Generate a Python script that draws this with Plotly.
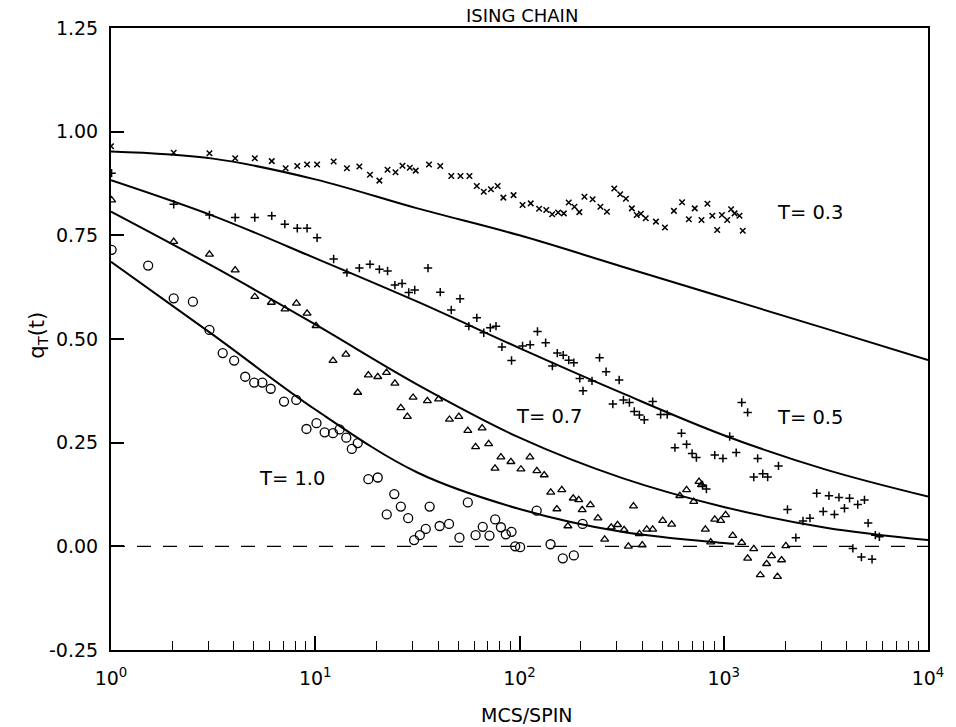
import numpy as np
import plotly.graph_objects as go

# ---- data (x stored as log10 of MCS/SPIN, y as q_T(t)) ----
t03_log = [0.0, 0.307, 0.482, 0.608, 0.704, 0.787, 0.855, 0.912, 0.96, 1.009, 1.09, 1.155, 1.216, 1.268, 1.314,
           1.354, 1.393, 1.427, 1.463, 1.492, 1.557, 1.612, 1.666, 1.711, 1.755, 1.791, 1.825, 1.86, 1.893, 1.921,
           1.971, 2.015, 2.055, 2.096, 2.131, 2.16, 2.189, 2.217, 2.241, 2.269, 2.293, 2.318, 2.358, 2.396, 2.428,
           2.464, 2.493, 2.521, 2.55, 2.574, 2.594, 2.618, 2.668, 2.712, 2.756, 2.796, 2.829, 2.858, 2.891, 2.92,
           2.944, 2.968, 2.991, 3.017, 3.036, 3.053, 3.077, 3.093]
t03_q = [0.965, 0.949, 0.948, 0.936, 0.936, 0.929, 0.912, 0.917, 0.921, 0.921, 0.928, 0.912, 0.916, 0.896, 0.882,
         0.908, 0.902, 0.918, 0.913, 0.906, 0.921, 0.917, 0.893, 0.893, 0.893, 0.869, 0.855, 0.861, 0.869, 0.841,
         0.847, 0.823, 0.827, 0.814, 0.811, 0.801, 0.805, 0.803, 0.829, 0.819, 0.806, 0.843, 0.837, 0.819, 0.807,
         0.863, 0.849, 0.838, 0.815, 0.799, 0.802, 0.791, 0.783, 0.769, 0.809, 0.830, 0.789, 0.815, 0.787, 0.826,
         0.797, 0.763, 0.799, 0.787, 0.813, 0.803, 0.797, 0.761]

t05_log = [0.003, 0.307, 0.482, 0.608, 0.704, 0.787, 0.851, 0.912, 0.960, 1.009, 1.090, 1.155, 1.216, 1.268, 1.314,
           1.354, 1.390, 1.425, 1.458, 1.487, 1.552, 1.612, 1.666, 1.709, 1.752, 1.791, 1.825, 1.857, 1.885, 1.914,
           1.961, 2.015, 2.052, 2.088, 2.128, 2.161, 2.185, 2.214, 2.241, 2.266, 2.295, 2.311, 2.355, 2.392, 2.424,
           2.457, 2.488, 2.509, 2.538, 2.562, 2.587, 2.611, 2.652, 2.691, 2.723, 2.761, 2.793, 2.818, 2.845, 2.866,
           2.896, 2.915, 2.956, 2.996, 3.029, 3.061, 3.088, 3.117, 3.147, 3.166, 3.191, 3.215, 3.268, 3.312, 3.353,
           3.388, 3.422, 3.455, 3.487, 3.515, 3.542, 3.564, 3.591, 3.616, 3.632, 3.656, 3.674, 3.689, 3.707, 3.726,
           3.742, 3.762]
t05_q = [0.900, 0.825, 0.799, 0.793, 0.793, 0.797, 0.777, 0.767, 0.767, 0.744, 0.693, 0.660, 0.671, 0.680, 0.668,
         0.664, 0.630, 0.634, 0.612, 0.618, 0.671, 0.613, 0.570, 0.597, 0.531, 0.551, 0.515, 0.527, 0.531, 0.481,
         0.448, 0.483, 0.486, 0.518, 0.491, 0.435, 0.466, 0.461, 0.449, 0.443, 0.405, 0.375, 0.399, 0.455, 0.421,
         0.343, 0.401, 0.353, 0.347, 0.325, 0.317, 0.305, 0.349, 0.318, 0.318, 0.238, 0.273, 0.246, 0.224, 0.214,
         0.148, 0.138, 0.220, 0.212, 0.265, 0.226, 0.347, 0.323, 0.167, 0.212, 0.175, 0.167, 0.194, 0.089, 0.021,
         0.061, 0.068, 0.128, 0.084, 0.122, 0.077, 0.118, 0.092, 0.116, -0.005, 0.101, -0.026, 0.112, 0.056, -0.031,
         0.027, 0.023]

t07_log = [0.003, 0.307, 0.482, 0.608, 0.704, 0.785, 0.852, 0.908, 0.960, 1.004, 1.087, 1.150, 1.208, 1.260, 1.306,
           1.349, 1.390, 1.419, 1.451, 1.479, 1.549, 1.604, 1.657, 1.703, 1.747, 1.785, 1.817, 1.849, 1.880, 1.909,
           1.958, 2.007, 2.051, 2.085, 2.121, 2.153, 2.183, 2.207, 2.237, 2.263, 2.290, 2.307, 2.347, 2.384, 2.417,
           2.449, 2.480, 2.512, 2.533, 2.558, 2.587, 2.601, 2.623, 2.652, 2.701, 2.745, 2.785, 2.818, 2.853, 2.879,
           2.891, 2.910, 2.936, 2.956, 2.985, 3.009, 3.044, 3.088, 3.117, 3.147, 3.179, 3.210, 3.234, 3.263, 3.283,
           3.304]
t07_q = [0.835, 0.735, 0.704, 0.666, 0.602, 0.588, 0.572, 0.586, 0.562, 0.532, 0.448, 0.463, 0.371, 0.413, 0.409,
         0.419, 0.393, 0.334, 0.313, 0.359, 0.351, 0.355, 0.306, 0.313, 0.279, 0.240, 0.285, 0.247, 0.188, 0.215,
         0.204, 0.186, 0.215, 0.182, 0.172, 0.130, 0.090, 0.136, 0.049, 0.116, 0.112, 0.088, 0.100, 0.068, 0.017,
         0.046, 0.052, 0.040, 0.000, 0.097, 0.030, 0.003, 0.041, 0.041, 0.062, 0.053, 0.122, 0.136, 0.108, 0.156,
         0.148, 0.041, 0.010, 0.065, 0.062, 0.076, 0.026, 0.009, -0.029, -0.006, -0.069, -0.042, -0.023, -0.073, -0.033,
         0.001]

t10_log = [0.003, 0.182, 0.307, 0.401, 0.482, 0.547, 0.603, 0.657, 0.701, 0.741, 0.782, 0.847, 0.907, 0.957, 1.006,
           1.046, 1.087, 1.119, 1.152, 1.179, 1.208, 1.260, 1.306, 1.350, 1.387, 1.419, 1.455, 1.484, 1.512, 1.541,
           1.560, 1.609, 1.655, 1.706, 1.747, 1.785, 1.820, 1.853, 1.881, 1.909, 1.933, 1.961, 1.979, 2.003, 2.084,
           2.152, 2.212, 2.266, 2.309]
t10_q = [0.715, 0.677, 0.598, 0.590, 0.522, 0.466, 0.448, 0.409, 0.395, 0.395, 0.380, 0.349, 0.353, 0.283, 0.297,
         0.275, 0.273, 0.282, 0.262, 0.235, 0.249, 0.162, 0.166, 0.077, 0.126, 0.096, 0.068, 0.015, 0.027, 0.042,
         0.096, 0.049, 0.054, 0.021, 0.106, 0.027, 0.047, 0.026, 0.065, 0.046, 0.029, 0.035, 0.000, -0.002, 0.086,
         0.005, -0.029, -0.022, 0.054]

# theory curves (log10 t, q)
c03_log = [0, 0.5, 1.0, 1.5, 2.0, 2.5, 3.0, 3.5, 4.0]
c03_q = [0.952, 0.935, 0.885, 0.815, 0.750, 0.675, 0.600, 0.525, 0.449]
c05_log = [0, 0.5, 1.0, 1.5, 2.0, 2.5, 3.0, 3.5, 4.0]
c05_q = [0.883, 0.797, 0.695, 0.590, 0.478, 0.370, 0.268, 0.185, 0.120]
c07_log = [0, 0.5, 1.0, 1.5, 2.0, 2.5, 3.0, 3.5, 4.0]
c07_q = [0.807, 0.675, 0.535, 0.390, 0.262, 0.165, 0.095, 0.045, 0.015]
c10_log = [0, 0.5, 1.0, 1.5, 2.0, 2.5, 3.0, 3.05]
c10_q = [0.686, 0.510, 0.330, 0.178, 0.090, 0.035, 0.008, 0.006]

labels = ["T= 0.3", "T= 0.5", "T= 0.7", "T= 1.0"]
label_log = [3.42, 3.42, 2.146, 0.886]
label_q = [0.806, 0.310, 0.312, 0.163]

x_tickvals = [1, 10, 100, 1000, 10000]
x_ticktext = ["10<sup>0</sup>", "10<sup>1</sup>", "10<sup>2</sup>", "10<sup>3</sup>", "10<sup>4</sup>"]
y_tickvals = [-0.25, 0.0, 0.25, 0.5, 0.75, 1.0, 1.25]
y_ticktext = ["-0.25", "0.00", "0.25", "0.50", "0.75", "1.00", "1.25"]
minor_vals = [k * 10 ** d for d in range(4) for k in range(2, 10)]


def tx(lst):
    return [10 ** v for v in lst]


FONT = "DejaVu Sans, Verdana, sans-serif"
fig = go.Figure()

# zero reference line
fig.add_trace(go.Scatter(x=[1, 10000], y=[0, 0], mode="lines",
                         line=dict(color="black", width=1.1, dash="14px,12px"), hoverinfo="skip"))

for cl, cq in [(c03_log, c03_q), (c05_log, c05_q), (c07_log, c07_q), (c10_log, c10_q)]:
    fig.add_trace(go.Scatter(x=tx(cl), y=cq, mode="lines", line=dict(color="black", width=2, shape="spline")))

fig.add_trace(go.Scatter(x=tx(t03_log), y=t03_q, mode="markers",
                         marker=dict(symbol="x-thin", size=5.5, line=dict(color="black", width=1.5))))
fig.add_trace(go.Scatter(x=tx(t05_log), y=t05_q, mode="markers",
                         marker=dict(symbol="cross-thin", size=6, line=dict(color="black", width=1.5))))
fig.add_trace(go.Scatter(x=tx(t07_log), y=t07_q, mode="markers",
                         marker=dict(symbol="triangle-up-open", size=7, color="black", line=dict(width=1.3))))
fig.add_trace(go.Scatter(x=tx(t10_log), y=t10_q, mode="markers",
                         marker=dict(symbol="circle-open", size=9, color="black", line=dict(width=1.3))))

for txt, lx, ly in zip(labels, label_log, label_q):
    fig.add_annotation(x=lx, y=ly, xref="x", yref="y", text=txt, showarrow=False,
                       font=dict(family=FONT, size=19.5, color="black"))

fig.add_annotation(x=(525 - 111) / 823, y=1 + 13 / 622, xref="paper", yref="paper", text="ISING CHAIN",
                   showarrow=False, font=dict(family=FONT, size=18, color="black"), yanchor="middle")
fig.add_annotation(x=(530 - 111) / 823, y=(650 - 715) / 622, xref="paper", yref="paper", text="MCS/SPIN",
                   showarrow=False, font=dict(family=FONT, size=19, color="black"), yanchor="middle")
fig.add_annotation(x=(22 - 111) / 823, y=(650 - 335) / 622, xref="paper", yref="paper",
                   text="q<sub>T</sub>(t)", textangle=-90, showarrow=False,
                   font=dict(family=FONT, size=21, color="black"))

fig.update_layout(
    width=956, height=727, autosize=False,
    margin=dict(l=111, r=22, t=28, b=77),
    paper_bgcolor="white", plot_bgcolor="white",
    showlegend=False,
    xaxis=dict(type="log", range=[0, 4], tickvals=x_tickvals, ticktext=x_ticktext,
               ticks="inside", ticklen=14, tickwidth=1.5, tickcolor="black",
               showline=True, linewidth=2, linecolor="black", mirror=True,
               showgrid=False, zeroline=False, ticklabelstandoff=10,
               tickfont=dict(family=FONT, size=19, color="black"),
               minor=dict(tickvals=minor_vals, ticks="inside", ticklen=9, tickwidth=1.3,
                          tickcolor="black", showgrid=False)),
    yaxis=dict(range=[-0.25, 1.25], tickvals=y_tickvals, ticktext=y_ticktext,
               ticks="inside", ticklen=13, tickwidth=1.5, tickcolor="black",
               showline=True, linewidth=2, linecolor="black", mirror=True,
               showgrid=False, zeroline=False, ticklabelstandoff=7,
               tickfont=dict(family=FONT, size=19, color="black")),
)

fig.write_html("out.html")
